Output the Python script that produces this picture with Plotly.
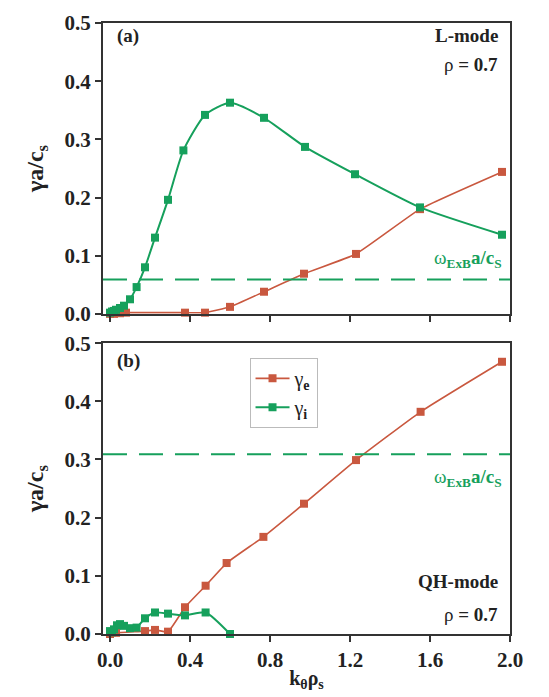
import plotly.graph_objects as go
from plotly.subplots import make_subplots

# ---- data ----
# Panel (a): L-mode
a_gi_k = [0.0, 0.01, 0.02, 0.03, 0.05, 0.07, 0.10, 0.133, 0.175, 0.225, 0.29, 0.367, 0.475, 0.60, 0.77, 0.975, 1.225, 1.55, 1.96]
a_gi_g = [0.002, 0.004, 0.005, 0.007, 0.010, 0.014, 0.025, 0.046, 0.080, 0.131, 0.196, 0.281, 0.342, 0.363, 0.337, 0.287, 0.240, 0.183, 0.136]
a_ge_k = [0.0, 0.02, 0.05, 0.08, 0.375, 0.475, 0.60, 0.77, 0.97, 1.23, 1.55, 1.96]
a_ge_g = [0.0, 0.0, 0.001, 0.002, 0.002, 0.002, 0.012, 0.038, 0.069, 0.103, 0.180, 0.244]
a_exb = 0.059

# Panel (b): QH-mode
b_gi_k = [0.0, 0.01, 0.02, 0.035, 0.05, 0.07, 0.10, 0.133, 0.175, 0.225, 0.29, 0.375, 0.478, 0.60]
b_gi_g = [0.005, 0.003, 0.008, 0.015, 0.017, 0.014, 0.010, 0.011, 0.027, 0.037, 0.035, 0.032, 0.037, 0.0]
b_ge_k = [0.0, 0.03, 0.175, 0.225, 0.29, 0.375, 0.478, 0.583, 0.767, 0.97, 1.23, 1.553, 1.96]
b_ge_g = [0.0, 0.002, 0.005, 0.007, 0.004, 0.046, 0.083, 0.122, 0.167, 0.224, 0.299, 0.382, 0.468]
b_exb = 0.309

x_ticks = [0.0, 0.4, 0.8, 1.2, 1.6, 2.0]
y_ticks = [0.0, 0.1, 0.2, 0.3, 0.4, 0.5]

RED = "#c9583f"
GREEN = "#16a05c"
INK = "#222222"
SERIF = "Liberation Serif, Times New Roman, serif"

fig = make_subplots(rows=2, cols=1, vertical_spacing=0.048)

def add_panel(row, ek, eg, ik, ig, exb, show_legend):
    fig.add_trace(go.Scatter(x=ek, y=eg, mode="lines+markers", name="γ<b><sub>e</sub></b>",
                             line=dict(color=RED, width=1.6, shape="spline", smoothing=0.4),
                             marker=dict(symbol="square", size=8, color=RED),
                             cliponaxis=False, showlegend=show_legend), row=row, col=1)
    fig.add_trace(go.Scatter(x=ik, y=ig, mode="lines+markers", name="γ<b><sub>i</sub></b>",
                             line=dict(color=GREEN, width=2, shape="spline", smoothing=0.6),
                             marker=dict(symbol="square", size=8, color=GREEN),
                             cliponaxis=False, showlegend=show_legend), row=row, col=1)
    fig.add_trace(go.Scatter(x=[-0.035, 2.0], y=[exb, exb], mode="lines",
                             line=dict(color=GREEN, width=2, dash="24px,12px"),
                             showlegend=False, hoverinfo="skip"), row=row, col=1)

add_panel(1, a_ge_k, a_ge_g, a_gi_k, a_gi_g, a_exb, False)
add_panel(2, b_ge_k, b_ge_g, b_gi_k, b_gi_g, b_exb, True)

axis_common = dict(showline=True, linecolor="#333333", linewidth=2, mirror=True,
                   ticks="outside", ticklen=6, tickwidth=1.5, tickcolor="#333333",
                   showgrid=False, zeroline=False,
                   tickfont=dict(family=SERIF, size=21, color=INK, weight="bold"))

for r in (1, 2):
    fig.update_xaxes(range=[-0.035, 2.0], tickvals=x_ticks, tickformat=".1f",
                     showticklabels=(r == 2), row=r, col=1, **axis_common)
    fig.update_yaxes(range=[0, 0.5], tickvals=y_ticks, tickformat=".1f",
                     row=r, col=1, **axis_common)
    fig.update_yaxes(title=dict(text="<b>γa/c<sub>s</sub></b>", font=dict(family=SERIF, size=24, color=INK),
                                standoff=14), row=r, col=1)

fig.update_xaxes(title=dict(text="<b>k<sub>θ</sub>ρ<sub>s</sub></b>", font=dict(family=SERIF, size=20, color=INK),
                            standoff=0), row=2, col=1)

tfont = dict(family=SERIF, size=19, color=INK)
gfont = dict(family=SERIF, size=19, color=GREEN)
ann = [
    dict(text="<b>(a)</b>", x=0.03, y=1.0, xref="paper", yref="paper", xanchor="left", yanchor="top", font=tfont),
    dict(text="<b>L-mode</b>", x=0.975, y=1.0, xref="paper", yref="paper", xanchor="right", yanchor="top", font=tfont),
    dict(text="ρ <b>= 0.7</b>", x=0.975, y=0.952, xref="paper", yref="paper", xanchor="right", yanchor="top", font=tfont),
    dict(text="ω<b><sub>ExB</sub>a/c<sub>S</sub></b>", x=1.97, y=0.07, xref="x", yref="y", xanchor="right", yanchor="bottom", font=gfont),
    dict(text="<b>(b)</b>", x=0.03, y=0.468, xref="paper", yref="paper", xanchor="left", yanchor="top", font=tfont),
    dict(text="<b>QH-mode</b>", x=0.975, y=0.106, xref="paper", yref="paper", xanchor="right", yanchor="top", font=tfont),
    dict(text="ρ <b>= 0.7</b>", x=0.975, y=0.052, xref="paper", yref="paper", xanchor="right", yanchor="top", font=tfont),
    dict(text="ω<b><sub>ExB</sub>a/c<sub>S</sub></b>", x=1.97, y=0.293, xref="x2", yref="y2", xanchor="right", yanchor="top", font=gfont),
]
for a in ann:
    a["showarrow"] = False
fig.update_layout(annotations=ann)

fig.update_layout(
    width=549, height=697,
    margin=dict(l=103, r=39, t=11, b=63),
    plot_bgcolor="white", paper_bgcolor="white",
    legend=dict(x=0.36, y=0.452, xanchor="left", yanchor="top",
                bordercolor="#bbbbbb", borderwidth=1, bgcolor="white",
                font=dict(family=SERIF, size=20, color=INK),
                itemwidth=34, tracegroupgap=16),
)
fig.write_html("out.html")
